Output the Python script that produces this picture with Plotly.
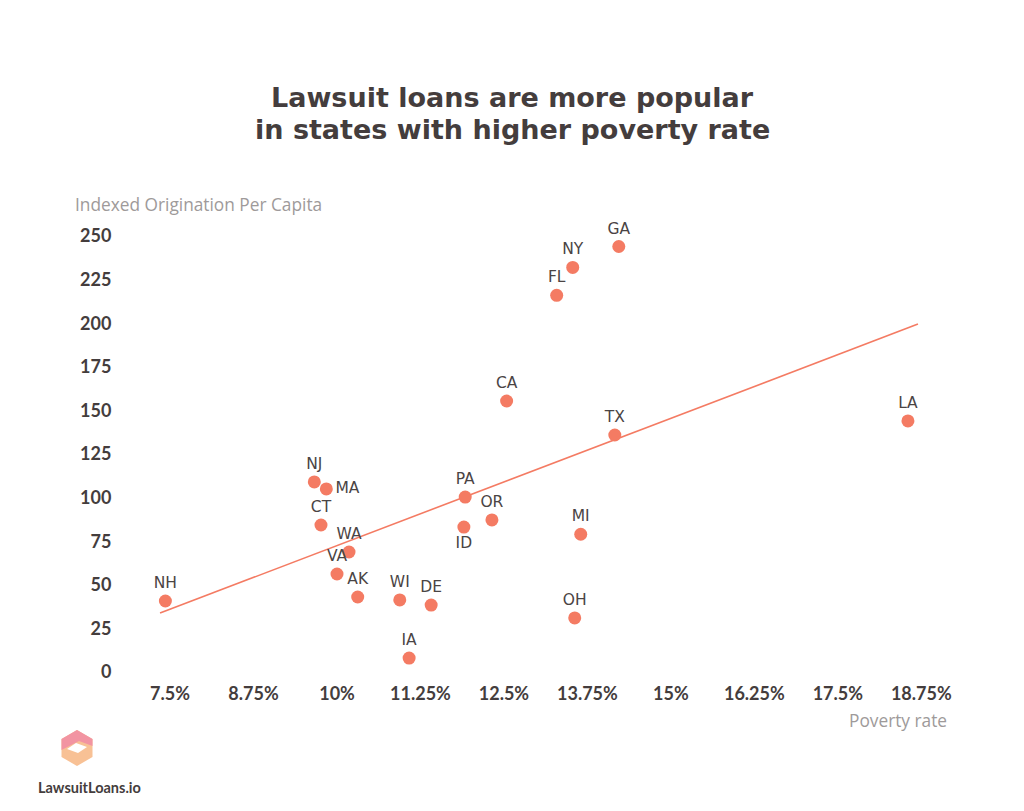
import plotly.graph_objects as go

# ---- data ----
states = ["NH", "NJ", "MA", "CT", "WA", "VA", "AK", "WI", "DE", "IA",
          "PA", "ID", "OR", "CA", "FL", "NY", "GA", "TX", "MI", "OH", "LA"]
poverty = [7.43, 9.66, 9.84, 9.76, 10.18, 10.0, 10.31, 10.94, 11.41, 11.08,
           11.92, 11.90, 12.32, 12.54, 13.29, 13.53, 14.22, 14.16, 13.65, 13.56, 18.55]
origination = [40.7, 109, 105, 84.3, 68.8, 56.2, 43, 41.3, 38.4, 8,
               100.3, 83.1, 87.2, 155.4, 216, 232, 244, 135.9, 79, 31, 144]
label_pos = ["top center", "top center", "middle right", "top center", "top center",
             "top center", "top center", "top center", "top center", "top center",
             "top center", "bottom center", "top center", "top center", "top center",
             "top center", "top center", "top center", "top center", "top center", "top center"]
trend_x = [7.35, 18.7]
trend_y = [33.8, 199.5]
x_ticks = [7.5, 8.75, 10, 11.25, 12.5, 13.75, 15, 16.25, 17.5, 18.75]
x_tick_labels = ["7.5%", "8.75%", "10%", "11.25%", "12.5%", "13.75%", "15%", "16.25%", "17.5%", "18.75%"]
y_ticks = [0, 25, 50, 75, 100, 125, 150, 175, 200, 225, 250]
title_lines = ["Lawsuit loans are more popular", "in states with higher poverty rate"]

ACCENT = "#f47b63"
DARK = "#443d3d"
GRAY = "#9e9a9a"

# the page shows the figure offset by the 8px body margin
OFF = 8
W, H = 1024, 811
L, R, T, B = 130 - OFF, 950 - OFF, 220 - OFF, 676 - OFF

def px(x, y):
    """screen pixel -> paper coords"""
    x -= OFF
    y -= OFF
    return (x - L) / (R - L), (B - y) / (B - T)

fig = go.Figure()
fig.add_trace(go.Scatter(
    x=trend_x, y=trend_y, mode="lines",
    line=dict(color=ACCENT, width=1.6), hoverinfo="skip", showlegend=False))
fig.add_trace(go.Scatter(
    x=poverty, y=origination, mode="markers+text",
    text=states, textposition=label_pos,
    textfont=dict(family="DejaVu Sans", size=15.5, color="#4a4444"),
    marker=dict(color=ACCENT, size=13),
    showlegend=False))

fig.update_layout(
    width=W, height=H,
    margin=dict(l=L, r=W - R, t=T, b=H - B),
    paper_bgcolor="white", plot_bgcolor="white",
    xaxis=dict(range=[6.9, 19.18], tickvals=x_ticks, ticktext=x_tick_labels,
               showgrid=False, zeroline=False, showline=False,
               ticks="outside", ticklen=1, tickcolor="rgba(0,0,0,0)",
               tickfont=dict(family="Lato", size=18, color=DARK, weight="bold")),
    yaxis=dict(range=[-2.3, 259.2], tickvals=y_ticks,
               showgrid=False, zeroline=False, showline=False,
               ticks="outside", ticklen=14, tickcolor="rgba(0,0,0,0)",
               tickfont=dict(family="Lato", size=18, color=DARK, weight="bold")),
)

annotations = []
for line, yy in zip(title_lines, [98, 130]):
    tx, ty = px(512, yy)
    annotations.append(dict(text=f"<b>{line}</b>", x=tx, y=ty, xref="paper", yref="paper",
                            showarrow=False, xanchor="center", yanchor="middle",
                            font=dict(family="DejaVu Sans", size=27, color=DARK)))
lx, ly = px(36, 787)
annotations.append(dict(text="<b>LawsuitLoans.io</b>", x=lx, y=ly, xref="paper", yref="paper",
                        showarrow=False, xanchor="left", yanchor="middle",
                        font=dict(family="Lato", size=14.5, color=DARK)))
ax, ay = px(73, 205)
annotations.append(dict(text="Indexed Origination Per Capita", x=ax, y=ay, xref="paper", yref="paper",
                        showarrow=False, xanchor="left", yanchor="middle",
                        font=dict(family="Open Sans", size=17.3, color=GRAY)))
bx, by = px(949, 720)
annotations.append(dict(text="Poverty rate", x=bx, y=by, xref="paper", yref="paper",
                        showarrow=False, xanchor="right", yanchor="middle",
                        font=dict(family="Open Sans", size=17.3, color=GRAY)))
fig.update_layout(annotations=annotations)

# logo: hexagon with inner rhombus
def path(points):
    s = ""
    for i, (x, y) in enumerate(points):
        X, Y = px(x, y)
        s += ("M" if i == 0 else "L") + f"{X:.5f},{Y:.5f} "
    return s + "Z"

cx, cy, r = 77, 748, 18
hexa = [(cx, cy - r), (cx + 15.5, cy - r / 2), (cx + 15.5, cy + r / 2),
        (cx, cy + r), (cx - 15.5, cy + r / 2), (cx - 15.5, cy - r / 2)]
fig.add_shape(type="path", path=path(hexa), xref="paper", yref="paper",
              fillcolor="#f8c195", line=dict(width=0))
fig.add_shape(type="path", path=path([hexa[5], hexa[0], hexa[1], (cx + 15.5, cy - 2), (cx + 2, cy - 7), (cx - 15.5, cy + 2)]),
              xref="paper", yref="paper", fillcolor="#f294a2", line=dict(width=0))
fig.add_shape(type="path", path=path([(cx - 10, cy + 1), (cx - 1, cy - 5), (cx + 10, cy - 1), (cx + 1, cy + 5)]),
              xref="paper", yref="paper", fillcolor="white", line=dict(width=0))

fig.write_html("out.html")
